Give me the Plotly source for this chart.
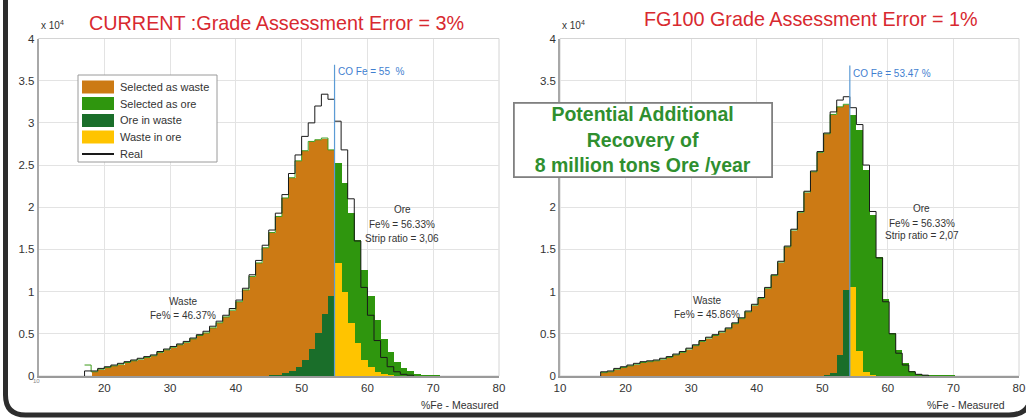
import numpy as np
import plotly.graph_objects as go

W, H = 1026, 420

# ---------------- DATA (counts, in units of 10^4) ----------------
# LEFT chart: CURRENT, 1 %Fe bins, bin start edges given by *_start
left_waste_start = 18
left_selected_waste = [0.05, 0.08, 0.10, 0.12, 0.14, 0.16, 0.18, 0.20, 0.22, 0.24,
                       0.28, 0.31, 0.34, 0.37, 0.40, 0.44, 0.48, 0.51, 0.57, 0.63,
                       0.70, 0.78, 0.88, 1.02, 1.18, 1.34, 1.52, 1.70, 1.89, 2.11,
                       2.35, 2.55, 2.67, 2.78, 2.80, 2.82, 2.68]
left_ore_start = 55
left_selected_ore = [2.53, 2.29, 1.94, 1.62, 1.26, 0.96, 0.67, 0.45, 0.29, 0.17,
                     0.10, 0.06, 0.035, 0.02, 0.012, 0.006]
left_oiw_start = 44
left_ore_in_waste = [0.005, 0.01, 0.02, 0.04, 0.06, 0.11, 0.19, 0.33, 0.51, 0.74, 0.96]
left_wio_start = 55
left_waste_in_ore = [1.35, 1.00, 0.64, 0.40, 0.20, 0.11, 0.055, 0.025, 0.01]
left_real_start = 17
left_real = [0.06, 0.06, 0.09, 0.11, 0.13, 0.15, 0.17, 0.19, 0.21, 0.23,
             0.25, 0.29, 0.32, 0.35, 0.38, 0.41, 0.45, 0.49, 0.53, 0.59,
             0.65, 0.72, 0.80, 0.90, 1.04, 1.20, 1.37, 1.55, 1.73, 1.93,
             2.15, 2.40, 2.62, 2.84, 3.00, 3.20, 3.34, 3.28, 3.02, 2.68,
             2.10, 1.60, 1.05, 0.72, 0.42, 0.22, 0.11, 0.05, 0.02, 0.01]
left_fringe_start = 17
left_fringe = [0.13] + left_selected_waste
left_cutoff = 55
left_title = "CURRENT :Grade Assessment Error = 3%"
left_co_label = "CO Fe = 55  %"
left_ore_text = ["Ore", "Fe% = 56.33%", "Strip ratio = 3,06"]
left_waste_text = ["Waste", "Fe% = 46.37%"]

# RIGHT chart: FG100
right_waste_start = 16.2
right_selected_waste = [0.04, 0.05, 0.08, 0.10, 0.12, 0.14, 0.16, 0.17, 0.18, 0.20,
                        0.22, 0.25, 0.28, 0.32, 0.36, 0.41, 0.45, 0.48, 0.52, 0.56,
                        0.62, 0.68, 0.76, 0.84, 0.92, 1.04, 1.19, 1.35, 1.53, 1.73,
                        1.94, 2.18, 2.42, 2.65, 2.87, 3.10, 3.19, 3.22]
right_ore_start = 54.2
right_selected_ore = [3.10, 2.92, 2.45, 1.92, 1.42, 0.92, 0.52, 0.31, 0.16, 0.07,
                      0.035, 0.02, 0.015, 0.01, 0.008, 0.006]
right_oiw_start = 49.2
right_ore_in_waste = [0.005, 0.01, 0.04, 0.26, 1.02]
right_wio_start = 54.2
right_waste_in_ore = [1.06, 0.30, 0.05, 0.01]
right_real_start = 16.2
right_real = [0.05, 0.06, 0.09, 0.11, 0.13, 0.15, 0.17, 0.18, 0.19, 0.21,
              0.23, 0.26, 0.29, 0.33, 0.37, 0.42, 0.46, 0.49, 0.53, 0.57,
              0.63, 0.69, 0.77, 0.85, 0.93, 1.05, 1.20, 1.36, 1.54, 1.74,
              1.95, 2.19, 2.43, 2.66, 2.88, 3.13, 3.27, 3.31, 3.18, 2.98,
              2.50, 1.95, 1.40, 0.88, 0.50, 0.27, 0.13, 0.05, 0.02, 0.01]
right_cutoff = 54.2
right_title = "FG100 Grade Assessment Error = 1%"
right_co_label = "CO Fe = 53.47 %"
right_ore_text = ["Ore", "Fe% = 56.33%", "Strip ratio = 2,07"]
right_waste_text = ["Waste", "Fe% = 45.86%"]

x_ticks = [10, 20, 30, 40, 50, 60, 70, 80]
left_x_ticktext = ["", "20", "30", "40", "50", "60", "70", "80"]
right_x_ticktext = ["10", "20", "30", "40", "50", "60", "70", "80"]
y_ticks = [0, 0.5, 1, 1.5, 2, 2.5, 3, 3.5, 4]
left_y_ticktext = ["0", "0.5", "1", "1.5", "2", "2.5", "3", "3.5", "4"]
# 2.5 and 3 are hidden behind the callout box on the right chart
right_y_ticktext = ["0", "0.5", "1", "1.5", "2", "", "", "3.5", "4"]
legend_labels = ["Selected as waste", "Selected as ore", "Ore in waste", "Waste in ore", "Real"]
callout_lines = ["Potential Additional", "Recovery of", "8 million tons Ore /year"]

# ---------------- STYLE ----------------
C_ORANGE = "#CC7A14"
C_GREEN = "#2F960E"
C_DKGREEN = "#1A6E2A"
C_YELLOW = "#FFC400"
C_REAL = "#1a1a1a"
C_CO = "#5B9BD5"
C_TITLE = "#D8292F"
FONT = "Liberation Sans, Arial, sans-serif"
TXT = "#333333"


def PX(x):
    return x / W


def PY(y):
    return 1 - y / H


fig = go.Figure()


def add_bars(start, vals, color, xa, ya):
    n = len(vals)
    fig.add_trace(go.Bar(x=start + 0.5 + np.arange(n), y=vals, width=1.0,
                         marker=dict(color=color, line=dict(width=0)),
                         xaxis=xa, yaxis=ya, hoverinfo="skip"))


def add_stairs(start, vals, color, width, xa, ya, close=True):
    n = len(vals)
    edges = list(start + np.arange(n + 1))
    if close:
        xs = [edges[0]] + edges + [edges[-1]]
        ys = [0] + list(vals) + [vals[-1], 0]
    else:
        xs = edges
        ys = list(vals) + [vals[-1]]
    fig.add_trace(go.Scatter(x=xs, y=ys, mode="lines", line=dict(color=color, width=width, shape="hv"),
                             xaxis=xa, yaxis=ya, hoverinfo="skip"))


for (xa, ya, d) in [
    ("x", "y", dict(ws=left_waste_start, w=left_selected_waste, os=left_ore_start, o=left_selected_ore,
                    oiws=left_oiw_start, oiw=left_ore_in_waste, wios=left_wio_start, wio=left_waste_in_ore,
                    rs=left_real_start, r=left_real, fs=left_fringe_start, f=left_fringe)),
    ("x2", "y2", dict(ws=right_waste_start, w=right_selected_waste, os=right_ore_start, o=right_selected_ore,
                      oiws=right_oiw_start, oiw=right_ore_in_waste, wios=right_wio_start, wio=right_waste_in_ore,
                      rs=right_real_start, r=right_real, fs=right_waste_start, f=right_selected_waste)),
]:
    add_bars(d["ws"], d["w"], C_ORANGE, xa, ya)
    add_bars(d["os"], d["o"], C_GREEN, xa, ya)
    add_bars(d["oiws"], d["oiw"], C_DKGREEN, xa, ya)
    add_bars(d["wios"], d["wio"], C_YELLOW, xa, ya)
    add_stairs(d["fs"], d["f"], "#3c9a1a", 1.0, xa, ya, close=False)
    add_stairs(d["rs"], d["r"], C_REAL, 1.0, xa, ya)

axis_common = dict(range=[10, 80], tickvals=x_ticks, showgrid=True, gridcolor="#e3e3e3", gridwidth=1,
                   zeroline=False, showline=True, linecolor="#9a9a9a", linewidth=1.5, automargin=False,
                   tickfont=dict(family=FONT, size=11.5, color=TXT), ticks="", fixedrange=True)
yaxis_common = dict(range=[0, 4], tickvals=y_ticks, showgrid=True, gridcolor="#e3e3e3",
                    gridwidth=1, zeroline=False, showline=True, linecolor="#a8a8a8", linewidth=1.5,
                    automargin=False,
                    tickfont=dict(family=FONT, size=11.5, color=TXT), ticks="", fixedrange=True)

ydom = [PY(376), PY(38.5)]
fig.update_layout(
    width=W, height=H, margin=dict(l=0, r=0, t=0, b=0, pad=0), autosize=False,
    paper_bgcolor="white", plot_bgcolor="white", showlegend=False, barmode="overlay", bargap=0,
    xaxis=dict(domain=[PX(38.5), PX(499)], anchor="y", ticktext=left_x_ticktext, **axis_common),
    yaxis=dict(domain=ydom, anchor="x", ticktext=left_y_ticktext, **yaxis_common),
    xaxis2=dict(domain=[PX(560), PX(1019)], anchor="y2", ticktext=right_x_ticktext, **axis_common),
    yaxis2=dict(domain=ydom, anchor="x2", ticktext=right_y_ticktext, **yaxis_common),
)

shapes = []
annots = []

# plot box (light top/right border)
for xr, yr in [("x", "y"), ("x2", "y2")]:
    shapes.append(dict(type="rect", xref=f"{xr} domain", yref=f"{yr} domain", x0=0, x1=1, y0=0, y1=1,
                       line=dict(color="#d4d4d4", width=1), layer="below"))

# cutoff lines + labels
for xr, yr, co, lab, ytop, ylab in [("x", "y", left_cutoff, left_co_label, 3.69, 3.61),
                                    ("x2", "y2", right_cutoff, right_co_label, 3.68, 3.59)]:
    shapes.append(dict(type="line", xref=xr, yref=yr, x0=co, x1=co, y0=0, y1=ytop,
                       line=dict(color=C_CO, width=1.2), layer="above"))
    annots.append(dict(xref=xr, yref=yr, x=co, y=ylab, text=lab, showarrow=False, xanchor="left",
                       yanchor="middle", xshift=1, font=dict(family=FONT, size=10, color="#3F7FD0")))

# Ore / Waste labels
for xr, yr, ore_txt, waste_txt, ox, oys, wx, wys in [
    ("x", "y", left_ore_text, left_waste_text, 65.3, [1.97, 1.79, 1.63], 32.0, [0.88, 0.72]),
    ("x2", "y2", right_ore_text, right_waste_text, 65.2, [1.99, 1.81, 1.66], 32.4, [0.90, 0.73]),
]:
    for t, yy in zip(ore_txt, oys):
        annots.append(dict(xref=xr, yref=yr, x=ox, y=yy, text=t, showarrow=False,
                           font=dict(family=FONT, size=10, color=TXT)))
    for t, yy in zip(waste_txt, wys):
        annots.append(dict(xref=xr, yref=yr, x=wx, y=yy, text=t, showarrow=False,
                           font=dict(family=FONT, size=10, color=TXT)))

# titles
annots.append(dict(xref="paper", yref="paper", x=PX(276.5), y=PY(23), text=left_title, showarrow=False,
                   xanchor="center", yanchor="middle", font=dict(family=FONT, size=19.8, color=C_TITLE)))
annots.append(dict(xref="paper", yref="paper", x=PX(810.5), y=PY(19), text=right_title, showarrow=False,
                   xanchor="center", yanchor="middle", font=dict(family=FONT, size=19.8, color=C_TITLE)))

# x 10^4 multipliers
for xp in [39, 560]:
    annots.append(dict(xref="paper", yref="paper", x=PX(xp), y=PY(25), text="x 10<sup>4</sup>",
                       showarrow=False, xanchor="left", yanchor="middle",
                       font=dict(family=FONT, size=10, color=TXT)))

# tiny "10" under origin on left chart
annots.append(dict(xref="paper", yref="paper", x=PX(36), y=PY(381), text="10", showarrow=False,
                   xanchor="center", yanchor="middle", font=dict(family=FONT, size=6, color="#888888")))

# x axis titles
for xc in [460, 966]:
    annots.append(dict(xref="paper", yref="paper", x=PX(xc), y=PY(405), text="%Fe - Measured",
                       showarrow=False, xanchor="center", yanchor="middle",
                       font=dict(family=FONT, size=10.5, color=TXT)))

# legend (left chart)
shapes.append(dict(type="rect", xref="paper", yref="paper", x0=PX(78), x1=PX(217), y0=PY(162), y1=PY(75),
                   line=dict(color="#9a9a9a", width=1), fillcolor="white", layer="above"))
leg_colors = [C_ORANGE, C_GREEN, C_DKGREEN, C_YELLOW]
row_y = [87, 103.5, 120.5, 137, 154]
for i, lab in enumerate(legend_labels):
    yc = row_y[i]
    if i < 4:
        shapes.append(dict(type="rect", xref="paper", yref="paper", x0=PX(82), x1=PX(114),
                           y0=PY(yc + 6.5), y1=PY(yc - 6.5), line=dict(width=0),
                           fillcolor=leg_colors[i], layer="above"))
    else:
        shapes.append(dict(type="line", xref="paper", yref="paper", x0=PX(82), x1=PX(114),
                           y0=PY(yc), y1=PY(yc), line=dict(color=C_REAL, width=2), layer="above"))
    annots.append(dict(xref="paper", yref="paper", x=PX(118), y=PY(yc), text=lab, showarrow=False,
                       xanchor="left", yanchor="middle", font=dict(family=FONT, size=11, color=TXT)))

# callout box (right chart)
annots.append(dict(xref="paper", yref="paper", x=PX(642.5), y=PY(140.5),
                   text="<br>".join(f"<b>{t}</b>" for t in callout_lines), showarrow=False,
                   xanchor="center", yanchor="middle", align="center", valign="middle",
                   width=254, height=70, bgcolor="white", bordercolor="#808080", borderwidth=1.8,
                   borderpad=1, font=dict(family=FONT, size=19.5, color="#2F8F2F")))

# outer rounded frame (left + bottom, right edge just off-canvas)
x0, x1, yb = PX(5.5), PX(1031), PY(415)
rx, ry = 22 / W, 22 / H
ytop = 1.05
path = (f"M {x0},{ytop} L {x0},{yb + 20 / H} Q {x0},{yb} {x0 + 20 / W},{yb} "
        f"L {x1 - rx},{yb} Q {x1},{yb} {x1},{yb + ry} L {x1},{ytop}")
shapes.append(dict(type="path", xref="paper", yref="paper", path=path,
                   line=dict(color="#2d2d2d", width=5), layer="above"))

fig.update_layout(shapes=shapes, annotations=annots)
fig.write_html("out.html", config={"displayModeBar": False},
               post_script="document.body.style.margin='0';document.body.style.overflow='hidden';")
